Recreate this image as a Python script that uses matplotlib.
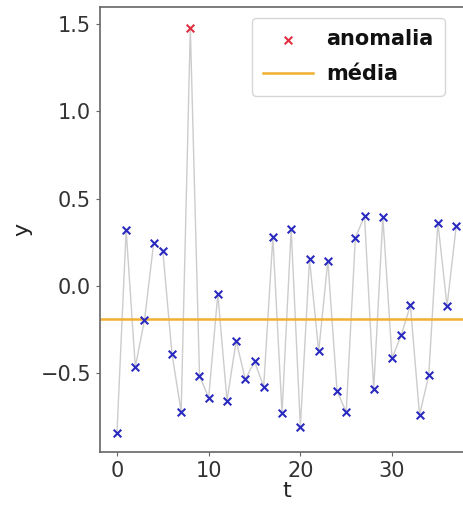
import matplotlib
matplotlib.use('Agg')
import matplotlib.pyplot as plt
import numpy as np

# serie
t = list(range(38))
y = [-0.84, 0.32, -0.464, -0.196, 0.245, 0.202, -0.389, -0.72, 1.479, -0.514,
     -0.64, -0.046, -0.657, -0.314, -0.535, -0.432, -0.577, 0.279, -0.727, 0.325,
     -0.806, 0.153, -0.374, 0.145, -0.601, -0.723, 0.277, 0.401, -0.592, 0.393,
     -0.414, -0.282, -0.111, -0.739, -0.512, 0.363, -0.115, 0.344]
anomalia_t = [8]
anomalia_y = [1.479]
media = -0.191

y_ticks = [-0.5, 0.0, 0.5, 1.0, 1.5]
x_ticks = [0, 10, 20, 30]

fig = plt.figure(figsize=(4.63, 5.07), dpi=100)
# the original is cropped on the right, so the axes run past the figure edge
ax = fig.add_axes([0.216, 0.1085, 0.806, 0.8775])

normal_t = [ti for ti in t if ti not in anomalia_t]
normal_y = [yi for ti, yi in zip(t, y) if ti not in anomalia_t]

ax.plot(t, y, color='#cccccc', linewidth=1.0, zorder=1)
ax.scatter(normal_t, normal_y, marker='x', color='#2a2ac0', s=30, linewidths=1.5, zorder=3)
ax.scatter(anomalia_t, anomalia_y, marker='x', color='#e03040', s=30, linewidths=1.5,
           zorder=4, label='anomalia')
ax.axhline(media, color='#f0b030', linewidth=1.8, zorder=2, label='média')

ax.set_xticks(x_ticks)
ax.set_yticks(y_ticks)
ax.set_ylim(-0.951, 1.598)
ax.set_xlim(-1.85, 38.85)

for s in ax.spines.values():
    s.set_color('#666666')
    s.set_linewidth(1.2)
ax.tick_params(labelsize=15, colors='#333333', length=3, color='#666666')
ax.set_xlabel('t', fontsize=16, color='#222222', labelpad=0)
ax.set_ylabel('y', fontsize=16, color='#222222', labelpad=6)

leg = ax.legend(loc='upper left', bbox_to_anchor=(252 / 463, 1 - 18 / 507),
                bbox_transform=fig.transFigure, borderaxespad=0,
                prop={'size': 15, 'weight': 'bold'},
                handlelength=2.4, handletextpad=0.6,
                labelspacing=0.7, borderpad=0.55)
for txt in leg.get_texts():
    txt.set_color('#111111')

fig.savefig('out.png', dpi=100)
